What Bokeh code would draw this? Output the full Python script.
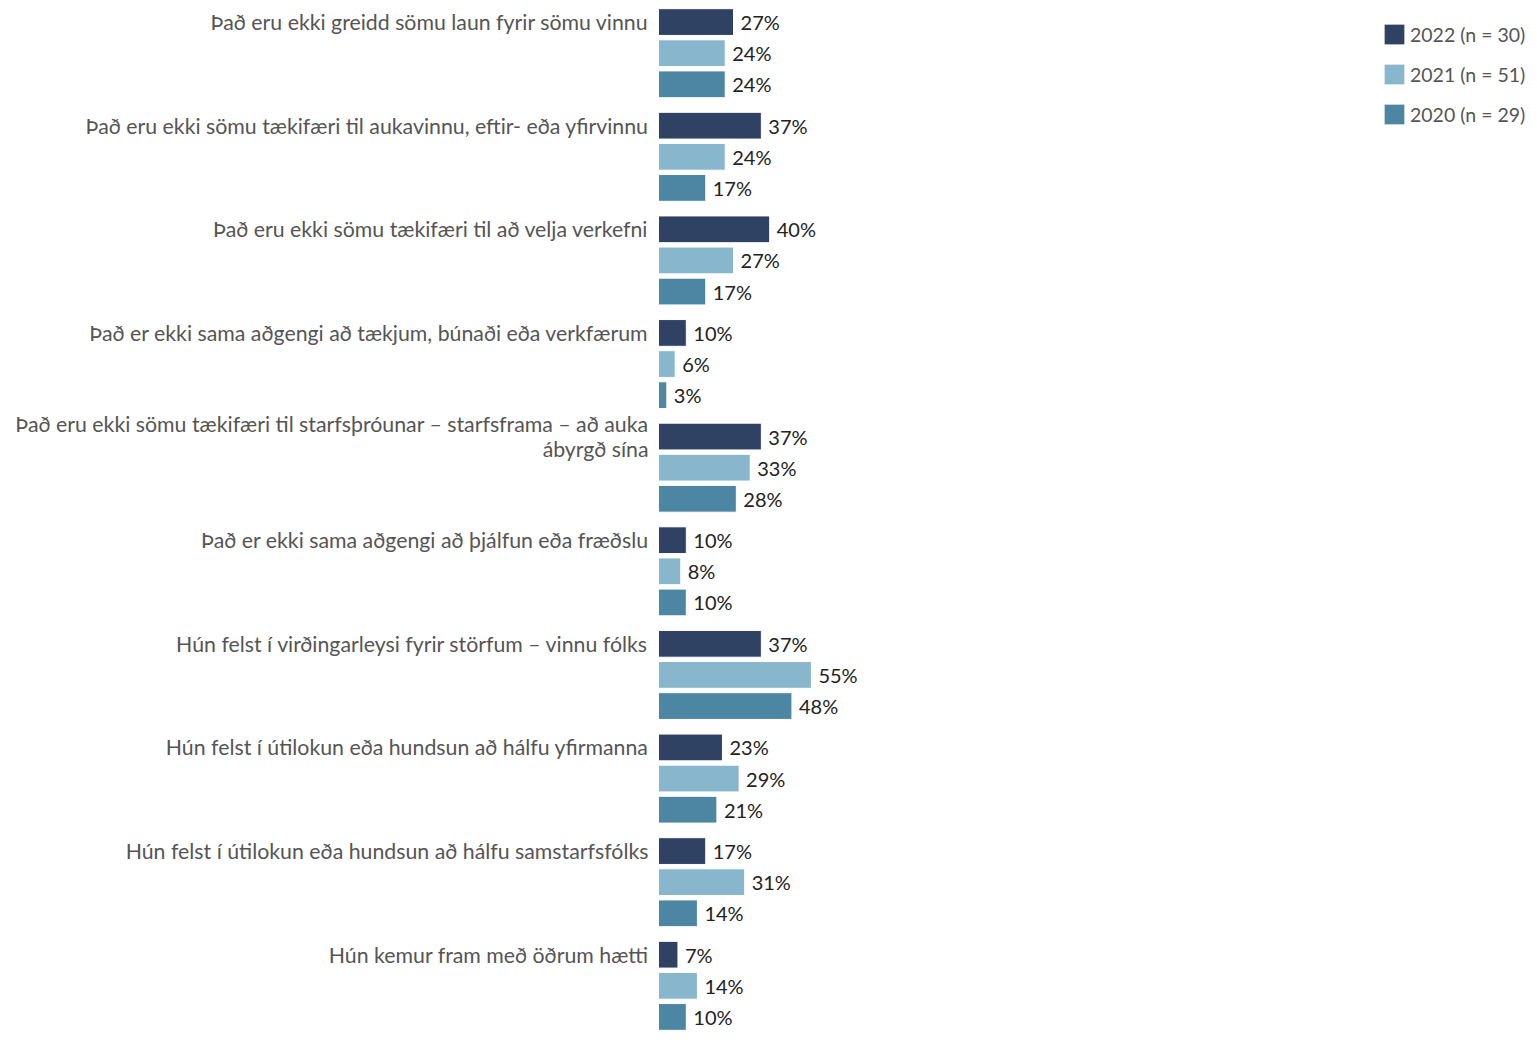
import textwrap
from bokeh.plotting import figure
from bokeh.models import FactorRange, ColumnDataSource, LabelSet, Legend, Range1d
from bokeh.core.properties import value
from bokeh.embed import file_html
from bokeh.resources import INLINE

categories = [
    "Það eru ekki greidd sömu laun fyrir sömu vinnu",
    "Það eru ekki sömu tækifæri til aukavinnu, eftir- eða yfirvinnu",
    "Það eru ekki sömu tækifæri til að velja verkefni",
    "Það er ekki sama aðgengi að tækjum, búnaði eða verkfærum",
    "Það eru ekki sömu tækifæri til starfsþróunar – starfsframa – að auka ábyrgð sína",
    "Það er ekki sama aðgengi að þjálfun eða fræðslu",
    "Hún felst í virðingarleysi fyrir störfum – vinnu fólks",
    "Hún felst í útilokun eða hundsun að hálfu yfirmanna",
    "Hún felst í útilokun eða hundsun að hálfu samstarfsfólks",
    "Hún kemur fram með öðrum hætti",
]
years = ["2022", "2021", "2020"]
n_values = [30, 51, 29]
values_2022 = [27, 37, 40, 10, 37, 10, 37, 23, 17, 7]
values_2021 = [24, 24, 27, 6, 33, 8, 55, 29, 31, 14]
values_2020 = [24, 17, 17, 3, 28, 10, 48, 21, 14, 10]
series = [values_2022, values_2021, values_2020]
colors = ["#2f4263", "#88b6cc", "#4c86a2"]

FONT = value("Lato")

factors = [(c, y) for c in categories for y in years][::-1]
yr = FactorRange(*factors, range_padding=0.0, group_padding=0.33, factor_padding=0.0)

W, H, TOP = 1529, 1032, 6
ZERO_PX, PX_PER_PCT = 658, 2.78
p = figure(width=W, height=H, y_range=yr,
           x_range=Range1d(-ZERO_PX / PX_PER_PCT, (W - ZERO_PX) / PX_PER_PCT),
           output_backend="svg", toolbar_location=None,
           min_border_left=0, min_border_right=0, min_border_top=TOP, min_border_bottom=0)
p.xaxis.visible = False
p.yaxis.visible = False
p.xgrid.grid_line_color = None
p.ygrid.grid_line_color = None
p.outline_line_color = None

legend_items = []
for yv, vals, col, n in zip(years, series, colors, n_values):
    src = ColumnDataSource(dict(
        y=[(c, yv) for c in categories],
        v=vals,
        t=[f"{v}%" for v in vals],
    ))
    r = p.hbar(y="y", left=0, right="v", height=0.86, source=src,
               fill_color=col, line_color="#ffffff", line_width=1)
    legend_items.append((f"{yv} (n = {n})", [r]))
    p.add_layout(LabelSet(x="v", y="y", text="t", source=src, x_offset=7,
                          text_align="left", text_baseline="middle",
                          text_font=FONT, text_font_size="20px", text_color="#222222"))

# category labels, one entry per wrapped line, each right-aligned
LINE_H = 25
ly, lx, lt, loff = [], [], [], []
for c in categories:
    lines = textwrap.wrap(c, 70)
    k = len(lines)
    for i, ln in enumerate(lines):
        ly.append((c, years[0]))
        lx.append(0)
        lt.append(ln)
        loff.append(((k - 1) / 2 - i) * LINE_H)
cat_src = ColumnDataSource(dict(y=ly, x=lx, t=lt, yo=loff))
p.add_layout(LabelSet(x="x", y="y", text="t", source=cat_src, x_offset=-10, y_offset="yo",
                      text_align="right", text_baseline="middle",
                      text_font=FONT, text_font_size="21.3px", text_color="#555555"))

legend = Legend(items=legend_items, location=(1381, H - TOP - 15 - 106),
                label_text_font="Lato", label_text_font_size="19.5px",
                label_text_color="#555555", glyph_width=26, glyph_height=26,
                label_height=26, spacing=14, padding=0, margin=0,
                border_line_alpha=0, background_fill_alpha=0, label_standoff=3)
p.add_layout(legend)

open("out.html", "w").write(file_html(p, INLINE))
